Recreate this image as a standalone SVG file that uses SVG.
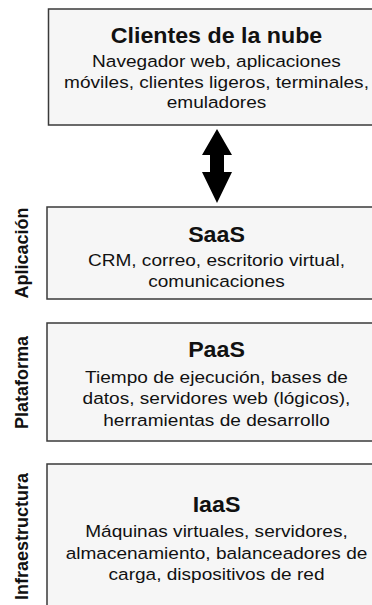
<svg xmlns="http://www.w3.org/2000/svg" width="372" height="605" viewBox="0 0 372 605">
<style>
.box{fill:#f6f6f6;stroke:#3a3a3a;stroke-width:1.5}
text{font-family:"Liberation Sans",Arial,Helvetica,sans-serif;fill:#111;text-anchor:middle}
.t{font-size:21.5px;font-weight:bold}
.d{font-size:16.5px}
.side{font-size:18px;font-weight:bold}
</style>
<rect width="372" height="605" fill="#fff"/>
<g id="clientes">
<rect class="box" x="48.5" y="9" width="340" height="116"/>
<text class="t" transform="translate(216.5,43) scale(1.08,1)">Clientes de la nube</text>
<text class="d" transform="translate(216.5,67) scale(1.155,1)">Navegador web, aplicaciones</text>
<text class="d" transform="translate(216.5,87.5) scale(1.155,1)">móviles, clientes ligeros, terminales,</text>
<text class="d" transform="translate(216.5,108) scale(1.155,1)">emuladores</text>
</g>
<g id="connectors">
<polygon points="217,129 232,155 224,155 224,172 232,172 217,203 202,172 210,172 210,155 202,155" fill="#000"/>
</g>
<g id="saas">
<rect class="box" x="47" y="207" width="342" height="92"/>
<text class="t" transform="translate(216.5,241.5) scale(1.08,1)">SaaS</text>
<text class="d" transform="translate(216.5,265.5) scale(1.155,1)">CRM, correo, escritorio virtual,</text>
<text class="d" transform="translate(216.5,287) scale(1.155,1)">comunicaciones</text>
<text class="side" transform="translate(28,253) rotate(-90)">Aplicación</text>
</g>
<g id="paas">
<rect class="box" x="47" y="323" width="342" height="118"/>
<text class="t" transform="translate(216.5,357) scale(1.08,1)">PaaS</text>
<text class="d" transform="translate(216.5,382.5) scale(1.155,1)">Tiempo de ejecución, bases de</text>
<text class="d" transform="translate(216.5,404) scale(1.155,1)">datos, servidores web (lógicos),</text>
<text class="d" transform="translate(216.5,425.5) scale(1.155,1)">herramientas de desarrollo</text>
<text class="side" transform="translate(28,382.5) rotate(-90)">Plataforma</text>
</g>
<g id="iaas">
<rect class="box" x="47" y="464" width="342" height="160"/>
<text class="t" transform="translate(216.5,512) scale(1.08,1)">IaaS</text>
<text class="d" transform="translate(216.5,537) scale(1.155,1)">Máquinas virtuales, servidores,</text>
<text class="d" transform="translate(216.5,558.5) scale(1.155,1)">almacenamiento, balanceadores de</text>
<text class="d" transform="translate(216.5,580) scale(1.155,1)">carga, dispositivos de red</text>
<text class="side" transform="translate(28,536.5) rotate(-90)">Infraestructura</text>
</g>
</svg>
